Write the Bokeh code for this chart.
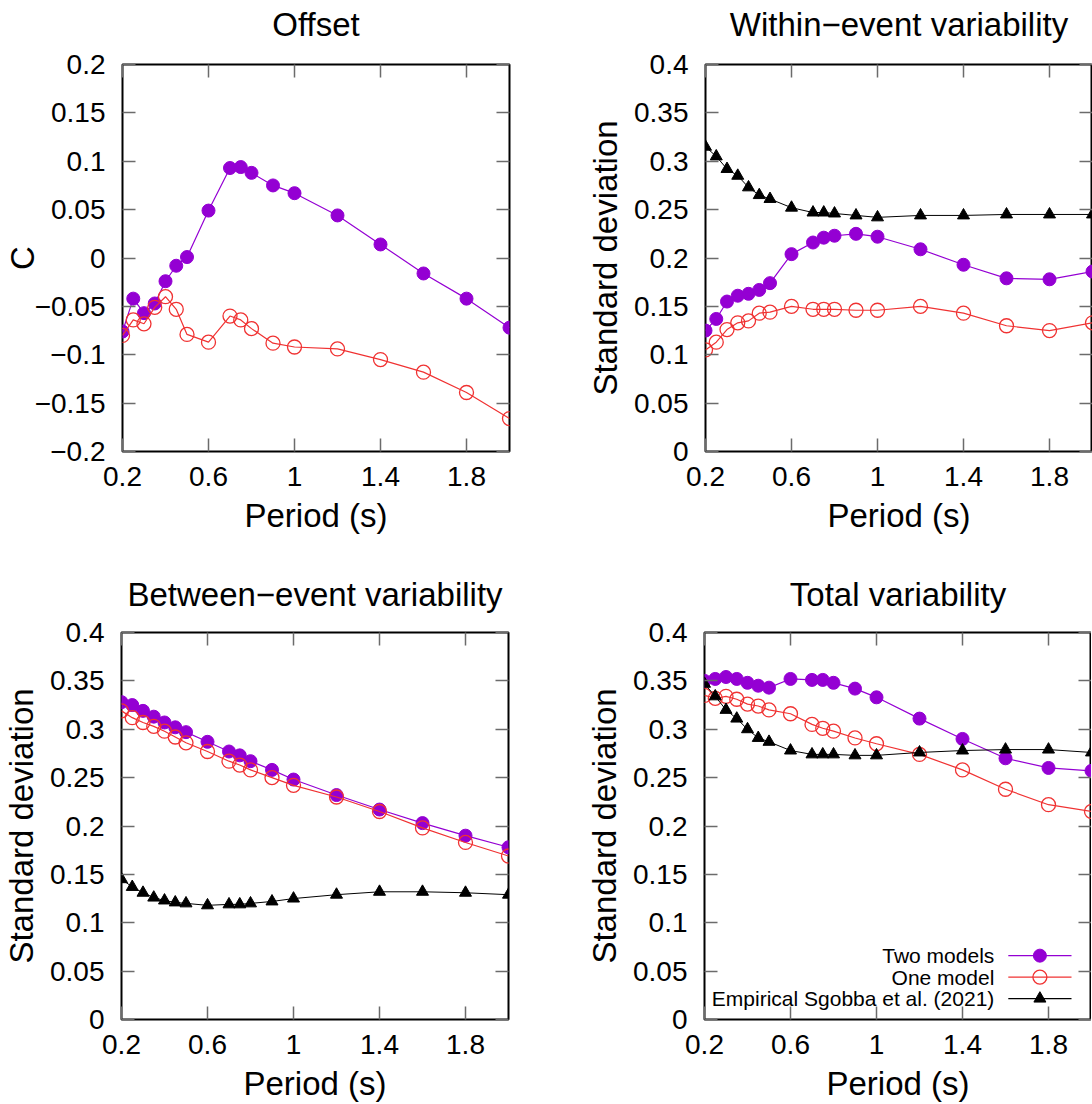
from bokeh.plotting import figure
from bokeh.layouts import column, row
from bokeh.models import LinearAxis, FixedTicker, CustomJSTickFormatter, Range1d
from bokeh.core.properties import value
from bokeh.embed import file_html
from bokeh.resources import INLINE

# ---------------- data ----------------
period = [0.2, 0.25, 0.3, 0.35, 0.4, 0.45, 0.5, 0.6, 0.7, 0.75, 0.8, 0.9, 1.0, 1.2, 1.4, 1.6, 1.8, 2.0]

offset_two = [-0.076, -0.042, -0.057, -0.047, -0.024, -0.008, 0.001, 0.049, 0.093, 0.094, 0.088, 0.075,
              0.067, 0.044, 0.014, -0.016, -0.042, -0.072]
offset_one = [-0.080, -0.064, -0.068, -0.051, -0.040, -0.053, -0.079, -0.087, -0.060, -0.064, -0.073, -0.088,
              -0.092, -0.094, -0.105, -0.118, -0.139, -0.166]

within_two = [0.125, 0.137, 0.155, 0.161, 0.163, 0.167, 0.174, 0.204, 0.216, 0.221, 0.223, 0.225,
              0.222, 0.209, 0.193, 0.179, 0.178, 0.186]
within_one = [0.105, 0.113, 0.126, 0.133, 0.135, 0.143, 0.144, 0.150, 0.147, 0.147, 0.147, 0.146,
              0.146, 0.150, 0.143, 0.130, 0.125, 0.133]
within_emp = [0.315, 0.305, 0.292, 0.285, 0.273, 0.265, 0.261, 0.252, 0.247, 0.247, 0.246, 0.244,
              0.242, 0.244, 0.244, 0.245, 0.245, 0.245]

between_two = [0.328, 0.325, 0.319, 0.313, 0.307, 0.302, 0.297, 0.287, 0.277, 0.273, 0.267, 0.258,
               0.248, 0.232, 0.217, 0.203, 0.190, 0.178]
between_one = [0.319, 0.312, 0.307, 0.303, 0.298, 0.292, 0.286, 0.277, 0.267, 0.263, 0.258, 0.250,
               0.242, 0.230, 0.215, 0.198, 0.183, 0.169]
between_emp = [0.145, 0.137, 0.131, 0.126, 0.123, 0.121, 0.120, 0.118, 0.119, 0.119, 0.120, 0.122,
               0.125, 0.129, 0.132, 0.132, 0.131, 0.129]

total_two = [0.350, 0.352, 0.354, 0.352, 0.348, 0.345, 0.343, 0.352, 0.351, 0.351, 0.348, 0.342,
             0.333, 0.311, 0.290, 0.270, 0.260, 0.257]
total_one = [0.335, 0.332, 0.334, 0.331, 0.326, 0.324, 0.320, 0.316, 0.305, 0.301, 0.298, 0.291,
             0.285, 0.274, 0.258, 0.238, 0.222, 0.215]
total_emp = [0.347, 0.334, 0.320, 0.311, 0.300, 0.291, 0.287, 0.278, 0.274, 0.274, 0.274, 0.273,
             0.273, 0.276, 0.278, 0.279, 0.279, 0.276]

x_ticks = [0.2, 0.6, 1.0, 1.4, 1.8]
offset_ticks = [-0.2, -0.15, -0.1, -0.05, 0.0, 0.05, 0.1, 0.15, 0.2]
sd_ticks = [0.0, 0.05, 0.1, 0.15, 0.2, 0.25, 0.3, 0.35, 0.4]

series_names = ["Two models", "One model", "Empirical Sgobba et al. (2021)"]

# ---------------- style ----------------
FONT = "Liberation Sans"
PURPLE = "#9400D3"
RED = "#F03232"
BLACK = "#000000"
TICK_COLOR = "#6b6b6b"
FW, FH = 387, 387
X_RANGE = (0.2, 2.0)

fmt_code = r"""
let s = tick.toFixed(2);
s = s.replace(/0+$/, '').replace(/\.$/, '');
if (s === '-0') { s = '0'; }
return s.replace('-', '\u2212');
"""


def style_axis(ax, ticks, show_labels, label_standoff=10):
    ax.ticker = FixedTicker(ticks=ticks)
    ax.formatter = CustomJSTickFormatter(code=fmt_code)
    ax.axis_line_color = None
    ax.major_tick_in = 13
    ax.major_tick_out = 0
    ax.minor_tick_line_color = None
    ax.major_tick_line_color = TICK_COLOR
    ax.major_tick_line_width = 1.5
    ax.major_label_text_font = FONT
    ax.major_label_text_color = "#000000"
    ax.axis_label_text_font = FONT
    ax.axis_label_text_font_size = "33px"
    ax.axis_label_text_font_style = "normal"
    ax.axis_label_text_color = "black"
    if show_labels:
        ax.major_label_text_font_size = "28px"
        ax.major_label_standoff = label_standoff
    else:
        ax.major_label_text_font_size = "0px"
        ax.major_label_standoff = 0
        ax.major_label_text_alpha = 0


def make(title, ylabel, yr, yticks, bl, bt, bb, br, ylab_standoff, title_gap):
    p = figure(frame_width=FW, frame_height=FH, x_range=Range1d(*X_RANGE), y_range=Range1d(*yr),
               output_backend="svg", toolbar_location=None,
               min_border_left=bl, min_border_right=br, min_border_top=bt, min_border_bottom=bb)
    p.background_fill_color = "white"
    p.border_fill_color = "white"
    p.grid.visible = False
    p.outline_line_color = "black"
    p.outline_line_width = 2

    style_axis(p.xaxis[0], x_ticks, True, 15)
    style_axis(p.yaxis[0], yticks, True, 17)
    p.xaxis[0].axis_label = "Period (s)"
    p.yaxis[0].axis_label = ylabel
    p.xaxis[0].axis_label_standoff = 8
    p.yaxis[0].axis_label_standoff = ylab_standoff

    # mirrored top axis; its label carries the panel title (centred over the frame)
    top = LinearAxis()
    style_axis(top, x_ticks, False)
    top.axis_label = title
    top.axis_label_standoff = title_gap
    p.add_layout(top, "above")
    right = LinearAxis()
    style_axis(right, yticks, False)
    p.add_layout(right, "right")
    return p


def add_series(p, ys, kind):
    if kind == "two":
        p.line(period, ys, line_color=PURPLE, line_width=1.2)
        p.scatter(period, ys, marker="circle", size=13, fill_color=PURPLE, line_color=PURPLE)
    elif kind == "one":
        p.line(period, ys, line_color=RED, line_width=1.2)
        p.scatter(period, ys, marker="circle", size=14, fill_color=None, line_color=RED, line_width=1.3)
    else:
        p.line(period, ys, line_color=BLACK, line_width=1.0)
        p.scatter(period, ys, marker="triangle", size=12, fill_color=BLACK, line_color=BLACK)


p1 = make("Offset", "C", (-0.2, 0.2), offset_ticks, 121, 64, 111, 38, -9, 22)
add_series(p1, offset_two, "two")
add_series(p1, offset_one, "one")

p2 = make("Within\u2212event variability", "Standard deviation", (0.0, 0.4), sd_ticks, 158, 64, 111, 0, 7, 22)
add_series(p2, within_two, "two")
add_series(p2, within_one, "one")
add_series(p2, within_emp, "emp")

p3 = make("Between\u2212event variability", "Standard deviation", (0.0, 0.4), sd_ticks, 121, 70, 85, 38, 7, 20)
add_series(p3, between_two, "two")
add_series(p3, between_one, "one")
add_series(p3, between_emp, "emp")

p4 = make("Total variability", "Standard deviation", (0.0, 0.4), sd_ticks, 158, 70, 85, 0, 7, 20)
add_series(p4, total_two, "two")
add_series(p4, total_one, "one")
add_series(p4, total_emp, "emp")

# ---------------- legend (gnuplot style: label, then sample) ----------------
LEG_TEXT_X = 1.548
LEG_LINE_X0, LEG_LINE_X1, LEG_MARK_X = 1.613, 1.907, 1.760
LEG_TOP, LEG_STEP = 0.066, 0.0222
leg_y = [LEG_TOP - i * LEG_STEP for i in range(len(series_names))]
p4.text(x=[LEG_TEXT_X] * 3, y=leg_y, text=series_names, text_align="right", text_baseline="middle",
        text_font=value(FONT), text_font_size="21px", text_color="black")
leg_colors = [PURPLE, RED, BLACK]
p4.segment(x0=[LEG_LINE_X0] * 3, x1=[LEG_LINE_X1] * 3, y0=leg_y, y1=leg_y,
           line_color=leg_colors, line_width=1.2)
p4.scatter([LEG_MARK_X], [leg_y[0]], marker="circle", size=13, fill_color=PURPLE, line_color=PURPLE)
p4.scatter([LEG_MARK_X], [leg_y[1]], marker="circle", size=14, fill_color=None, line_color=RED, line_width=1.3)
p4.scatter([LEG_MARK_X], [leg_y[2]], marker="triangle", size=12, fill_color=BLACK, line_color=BLACK)

layout = column(row(p1, p2, spacing=0), row(p3, p4, spacing=0), spacing=0)

open("out.html", "w").write(file_html(layout, INLINE))
